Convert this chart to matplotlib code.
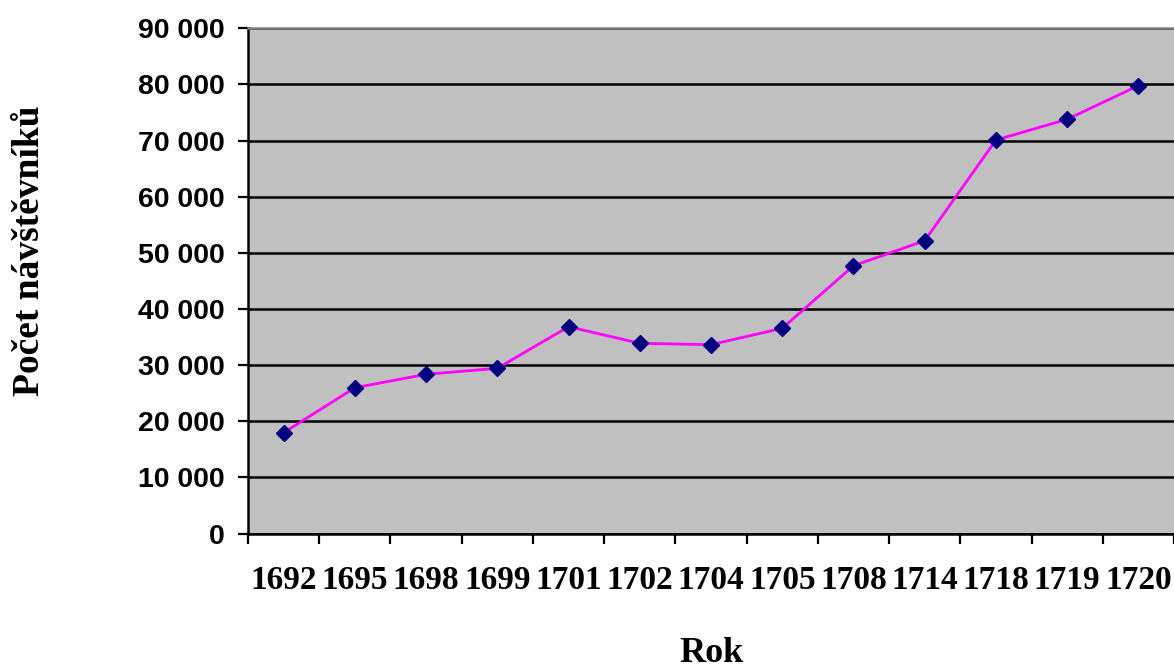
import matplotlib
matplotlib.use("Agg")
from matplotlib import pyplot as plt
from matplotlib.ticker import FuncFormatter, MultipleLocator, FixedLocator

# data
years = ['1692', '1695', '1698', '1699', '1701', '1702', '1704',
         '1705', '1708', '1714', '1718', '1719', '1720']
visitors = [17960, 25970, 28360, 29430, 36840, 33880, 33640,
            36560, 47700, 52160, 70100, 73790, 79780]

fig = plt.figure(figsize=(11.74, 6.70), dpi=100)
ax = fig.add_axes([248/1174, 136.5/670, 926/1174, 505.2/670])
ax.set_facecolor('#C0C0C0')

x = list(range(len(years)))
ax.plot(x, visitors, color='#FF00FF', linewidth=2.0, marker='D',
        markersize=8.5, markerfacecolor='#000080', markeredgecolor='#000080',
        zorder=3)

ax.set_xlim(-0.5, len(years) - 0.5)
ax.set_ylim(0, 90000)

# y axis
ax.yaxis.set_major_locator(MultipleLocator(10000))
ax.yaxis.set_major_formatter(FuncFormatter(lambda v, p: f'{int(v):,}'.replace(',', ' ')))
ax.grid(axis='y', color='black', linewidth=1.8)
ax.set_axisbelow(True)

# x axis: labels at centres, ticks at boundaries
ax.set_xticks(x)
ax.set_xticklabels(years)
ax.xaxis.set_minor_locator(FixedLocator([i - 0.5 for i in range(len(years) + 1)]))
ax.tick_params(axis='x', which='major', length=0, pad=23)
ax.tick_params(axis='x', which='minor', length=7, width=1.6, color='black')
ax.tick_params(axis='y', length=7, width=1.6, pad=10)

for lab in ax.get_xticklabels():
    lab.set_fontfamily('Liberation Serif')
    lab.set_fontweight('bold')
    lab.set_fontsize(24)
for lab in ax.get_yticklabels():
    lab.set_fontfamily('Liberation Sans')
    lab.set_fontweight('bold')
    lab.set_fontsize(20.5)

for side in ['left', 'bottom']:
    ax.spines[side].set_color('black')
    ax.spines[side].set_linewidth(1.8)
ax.spines['top'].set_color('#808080')
ax.spines['top'].set_linewidth(1.8)
ax.spines['right'].set_visible(False)

ax.set_xlabel('Rok', fontfamily='Liberation Serif', fontweight='bold',
              fontsize=26, labelpad=29)
ax.set_ylabel('Počet návštěvníků', fontfamily='Liberation Serif',
              fontweight='bold', fontsize=27)
ax.yaxis.set_label_coords(-0.217, 0.56)

fig.savefig('out.png', dpi=100)
